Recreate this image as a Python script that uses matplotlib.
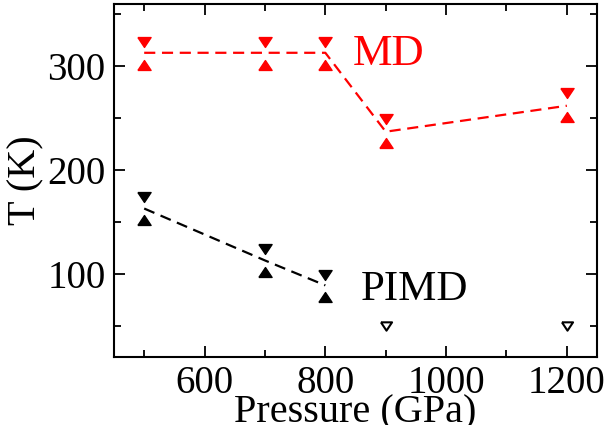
import matplotlib
matplotlib.use("Agg")
import matplotlib.pyplot as plt

plt.rcParams['font.family'] = ['Liberation Serif', 'DejaVu Serif']

# pressures (GPa) and temperatures (K)
p_md = [500, 700, 800, 900, 1200]
md_upper = [323, 323, 323, 249, 274]
md_lower = [301, 301, 301, 226, 251]
md_mid = [313, 313, 313, 237, 262]

p_pimd = [500, 700, 800]
pimd_upper = [174, 124, 99]
pimd_lower = [152, 102, 78]
pimd_mid = [163, 113, 89]

p_open = [900, 1200]
t_open = [50, 50]

tri_up = [(-1, -0.75), (1, -0.75), (0, 0.75), (-1, -0.75)]
tri_dn = [(-1, 0.75), (1, 0.75), (0, -0.75), (-1, 0.75)]

fig = plt.figure(figsize=(6.08, 4.25), dpi=100)
ax = fig.add_axes([0.1875, 0.16, 0.7945, 0.8306])

ax.plot(p_md, md_mid, color='red', ls='--', lw=1.6, dashes=(5, 3))
ax.plot(p_md, md_upper, ls='none', marker=tri_dn, ms=9.5, color='red', mec='red')
ax.plot(p_md, md_lower, ls='none', marker=tri_up, ms=9.5, color='red', mec='red')

ax.plot(p_pimd, pimd_mid, color='black', ls='--', lw=1.6, dashes=(5, 3))
ax.plot(p_pimd, pimd_upper, ls='none', marker=tri_dn, ms=9.5, color='black')
ax.plot(p_pimd, pimd_lower, ls='none', marker=tri_up, ms=9.5, color='black')

ax.plot(p_open, t_open, ls='none', marker=tri_dn, ms=8, mfc='white', mec='black', mew=1.5)

ax.text(846, 312, 'MD', color='red', fontsize=32, va='center', ha='left')
ax.text(858, 85, 'PIMD', color='black', fontsize=31, va='center', ha='left')

ax.set_xlim(450, 1250)
ax.set_ylim(20, 360)
ax.set_xticks([600, 800, 1000, 1200])
ax.set_xticks([500, 700, 900, 1100], minor=True)
ax.set_yticks([100, 200, 300])
ax.set_yticks([50, 150, 250, 350], minor=True)

ax.tick_params(which='both', direction='in', top=True, right=True, labelsize=28, width=1.3)
ax.tick_params(which='major', length=8, pad=6)
ax.tick_params(which='minor', length=5)
for s in ax.spines.values():
    s.set_linewidth(1.5)

ax.set_xlabel('Pressure (GPa)', fontsize=29, labelpad=-6)
ax.set_ylabel('T (K)', fontsize=29, labelpad=2)

fig.savefig('out.png', dpi=100)
